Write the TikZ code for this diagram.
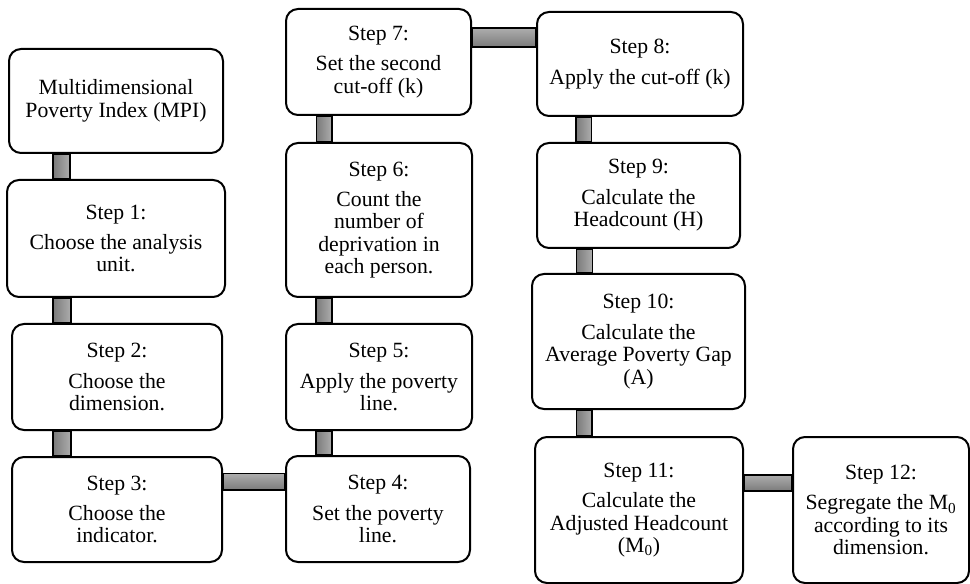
\documentclass[tikz,border=0pt]{standalone}
\usepackage{fontspec}
\setmainfont{Liberation Serif}
\usetikzlibrary{calc,backgrounds}
\begin{document}
\begin{tikzpicture}[x=.75pt,y=-.75pt,
    box/.style={draw,line width=1.5pt,rounded corners=9pt,fill=white,align=center,inner sep=0pt,
      font=\fontsize{16.3}{16.8}\selectfont},
    vbar/.style={draw,line width=.8pt,left color=black!52,right color=black!32},
    hbar/.style={draw,line width=.8pt,top color=black!32,bottom color=black!52}]
    \useasboundingbox (0,0) rectangle (970,584);
    % first column
    \node[box,minimum width=160.5pt,minimum height=78pt](mpi) at (116,101){Multidimensional\\Poverty Index (MPI)};
    \node[box,minimum width=163.5pt,minimum height=87.75pt](s1) at (116,238.5){Step 1:\\[6pt]Choose the analysis\\unit.};
    \node[box,minimum width=157.5pt,minimum height=79.5pt](s2) at (117,377){Step 2:\\[6pt]Choose the\\dimension.};
    \node[box,minimum width=157.5pt,minimum height=78.75pt](s3) at (117,509.5){Step 3:\\[6pt]Choose the\\indicator.};
    % second column
    \node[box,minimum width=138pt,minimum height=79.5pt](s4) at (378,509){Step 4:\\[6pt]Set the poverty\\line.};
    \node[box,minimum width=139.5pt,minimum height=79.5pt](s5) at (379,377){Step 5:\\[6pt]Apply the poverty\\line.};
    \node[box,minimum width=139.5pt,minimum height=115.5pt](s6) at (379,220){Step 6:\\[6pt]Count the\\number of\\deprivation in\\each person.};
    \node[box,minimum width=138.75pt,minimum height=79.5pt](s7) at (378.5,62){Step 7:\\[6pt]Set the second\\cut-off (k)};
    % third column
    \node[box,minimum width=154.5pt,minimum height=78pt](s8) at (640,64){Step 8:\\[6pt]Apply the cut-off (k)};
    \node[box,minimum width=152.25pt,minimum height=78.75pt](s9) at (638.5,195.5){Step 9:\\[6pt]Calculate the\\Headcount (H)};
    \node[box,minimum width=159.75pt,minimum height=101.25pt](s10) at (638.5,341.5){Step 10:\\[6pt]Calculate the\\Average Poverty Gap\\(A)};
    \node[box,minimum width=156pt,minimum height=109.5pt](s11) at (639,510){Step 11:\\[6pt]Calculate the\\Adjusted Headcount\\(M\textsubscript{0})};
    \node[box,minimum width=132pt,minimum height=109.5pt](s12) at (881,510){Step 12:\\[6pt]Segregate the M\textsubscript{0}\\according to its\\dimension.};
    % connectors
    \begin{scope}[on background layer]
        \draw[vbar]($(mpi.south)+(-63,0)$)rectangle($(s1.north)+(-46,0)$);
        \draw[vbar]($(s1.south)+(-63,0)$)rectangle($(s2.north)+(-46,0)$);
        \draw[vbar]($(s2.south)+(-64,0)$)rectangle($(s3.north)+(-46,0)$);
        \draw[hbar]($(s3.east)+(0,-36)$)rectangle($(s4.west)+(0,-19)$);
        \draw[vbar]($(s5.south)+(-63,0)$)rectangle($(s4.north)+(-46,0)$);
        \draw[vbar]($(s6.south)+(-63,0)$)rectangle($(s5.north)+(-47,0)$);
        \draw[vbar]($(s7.south)+(-62,0)$)rectangle($(s6.north)+(-47,0)$);
        \draw[hbar]($(s7.east)+(0,-34)$)rectangle($(s8.west)+(0,-17)$);
        \draw[vbar]($(s8.south)+(-64,0)$)rectangle($(s9.north)+(-47,0)$);
        \draw[vbar]($(s9.south)+(-62,0)$)rectangle($(s10.north)+(-46,0)$);
        \draw[vbar]($(s10.south)+(-62,0)$)rectangle($(s11.north)+(-47,0)$);
        \draw[hbar]($(s11.east)+(0,-35)$)rectangle($(s12.west)+(0,-19)$);
    \end{scope}
\end{tikzpicture}
\end{document}
